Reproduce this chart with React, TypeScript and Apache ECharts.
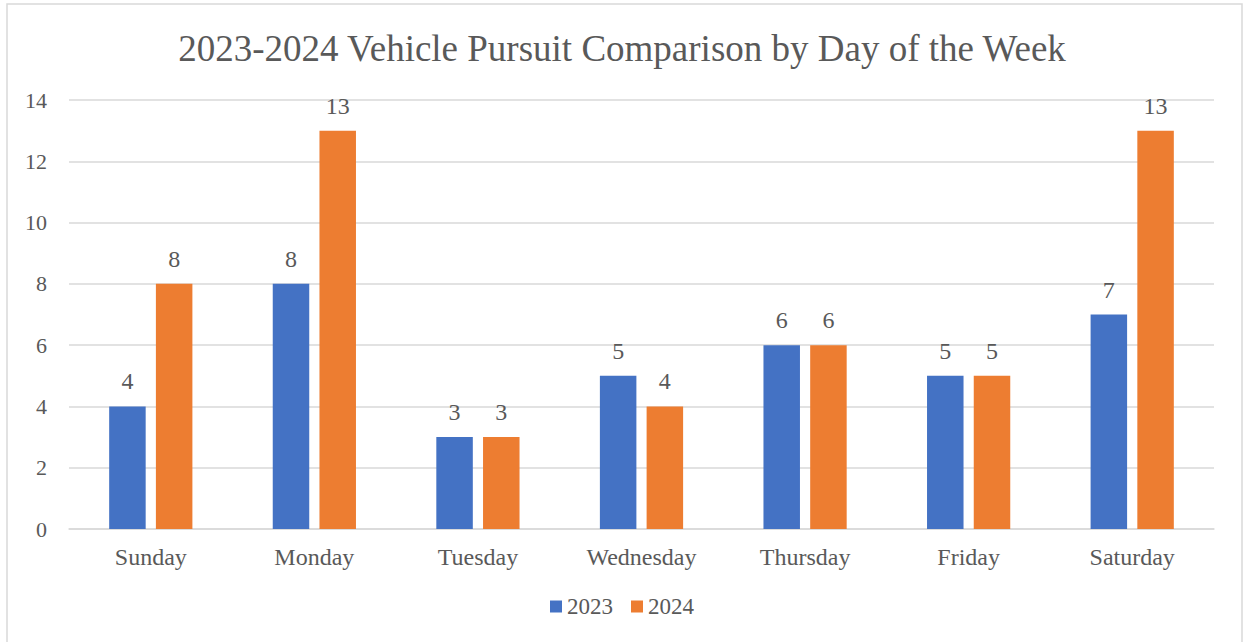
import React, { useEffect, useRef } from "react";
import * as echarts from "echarts";

const categories = ["Sunday", "Monday", "Tuesday", "Wednesday", "Thursday", "Friday", "Saturday"];
const values2023 = [4, 8, 3, 5, 6, 5, 7];
const values2024 = [8, 13, 3, 4, 6, 5, 13];
const seriesNames = ["2023", "2024"];
const titleText = "2023-2024 Vehicle Pursuit Comparison by Day of the Week";

const FONT = "Liberation Serif";
const TEXT = "#595959";

export default function App() {
  const ref = useRef<HTMLDivElement>(null);
  useEffect(() => {
    if (!ref.current) return;
    const chart = echarts.init(ref.current, null, { renderer: "svg" });
    const label = {
      show: true,
      position: "top",
      distance: 13,
      color: TEXT,
      fontFamily: FONT,
      fontSize: 24,
    };
    chart.setOption({
      animation: false,
      backgroundColor: "#ffffff",
      textStyle: { fontFamily: FONT },
      title: {
        text: titleText,
        left: "center",
        top: 25,
        textStyle: { fontFamily: FONT, fontSize: 37, fontWeight: "normal", color: TEXT },
      },
      legend: {
        data: seriesNames,
        bottom: 19,
        left: "center",
        icon: "rect",
        itemWidth: 12,
        itemHeight: 12,
        itemGap: 18,
        textStyle: { fontFamily: FONT, fontSize: 23, color: TEXT },
      },
      grid: { left: 69, right: 30, top: 100, bottom: 113, containLabel: false },
      xAxis: {
        type: "category",
        data: categories,
        axisLine: { lineStyle: { color: "#D9D9D9", width: 1.5 } },
        axisTick: { show: false },
        axisLabel: { color: TEXT, fontFamily: FONT, fontSize: 24, margin: 16 },
      },
      yAxis: {
        type: "value",
        min: 0,
        max: 14,
        interval: 2,
        axisLine: { show: false },
        axisTick: { show: false },
        splitLine: { lineStyle: { color: "#D9D9D9", width: 1.5 } },
        axisLabel: { color: TEXT, fontFamily: FONT, fontSize: 22, margin: 22 },
      },
      series: [
        {
          name: seriesNames[0],
          type: "bar",
          data: values2023,
          barWidth: 36.5,
          barGap: "28%",
          itemStyle: { color: "#4472C4" },
          label,
        },
        {
          name: seriesNames[1],
          type: "bar",
          data: values2024,
          barWidth: 36.5,
          itemStyle: { color: "#ED7D31" },
          label,
        },
      ],
      graphic: [
        {
          type: "rect",
          shape: { x: 7, y: 4, width: 1235, height: 700 },
          style: { fill: "none", stroke: "#D9D9D9", lineWidth: 1.5 },
          silent: true,
        },
      ],
    });
    return () => chart.dispose();
  }, []);
  return (
    <div
      ref={ref}
      style={{ position: "fixed", left: 0, top: 0, width: 1244, height: 642 }}
    />
  );
}
